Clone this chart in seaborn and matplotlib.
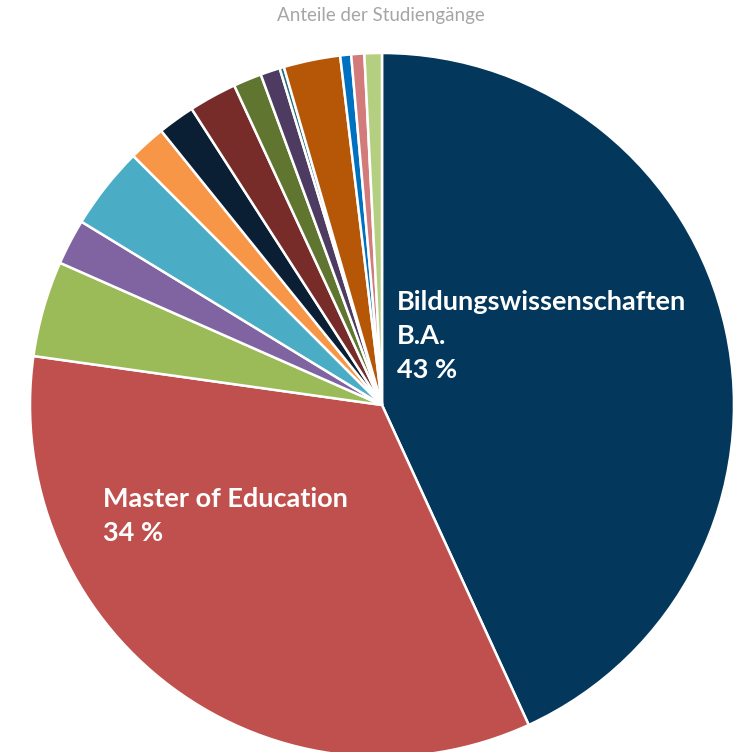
import numpy as np
import matplotlib
matplotlib.use("Agg")
import matplotlib.pyplot as plt
import seaborn as sns

# Anteile (in %), im Uhrzeigersinn ab 12 Uhr
labels = ["Bildungswissenschaften\nB.A.", "Master of Education", "S3", "S4", "S5", "S6", "S7",
          "S8", "S9", "S10", "S11", "S12", "S13", "S14", "S15"]
shares = [43.2, 34.1, 4.4, 2.1, 3.8, 1.7, 1.7, 2.2, 1.3, 0.9, 0.2, 2.6, 0.5, 0.6, 0.8]
colors = ["#03375B", "#C0504D", "#9BBB59", "#8064A2", "#4BACC6", "#F79646", "#0A1F33",
          "#772C2A", "#5F7530", "#4D3B62", "#276A7C", "#B65708", "#0070C0", "#D27B7A", "#B5CF80"]
pct_labels = ["43 %", "34 %"]

sns.set_theme(style="white")
plt.rcParams["font.family"] = ["Lato", "DejaVu Sans"]

fig = plt.figure(figsize=(7.43, 7.52), dpi=100)
ax = fig.add_axes([0, 0, 1, 1])

pal = sns.color_palette(colors)
wedges, _ = ax.pie(shares, colors=pal, startangle=90, counterclock=False, radius=1,
                   wedgeprops=dict(edgecolor="white", linewidth=1.8))

# Pixel-Geometrie der Vorlage: Mittelpunkt (382, 405), Radius 352 px
r_px = 352
ax.set_xlim(-382 / r_px, (743 - 382) / r_px)
ax.set_ylim(-(752 - 405) / r_px, 405 / r_px)
ax.set_aspect("auto")
ax.axis("off")

# Beschriftungen der zwei großen Segmente
ax.text(0.043, 0.196, labels[0] + "\n" + pct_labels[0], color="white", fontsize=19.5,
        fontweight="bold", ha="left", va="center", linespacing=1.5)
ax.text(-0.793, -0.315, labels[1] + "\n" + pct_labels[1], color="white", fontsize=19.5,
        fontweight="bold", ha="left", va="center", linespacing=1.5)

fig.text(0.513, 1 - 15 / 752, "Anteile der Studiengänge", color="#A6A6A6", fontsize=13.5,
         ha="center", va="center")

fig.savefig("out.png", dpi=100)
